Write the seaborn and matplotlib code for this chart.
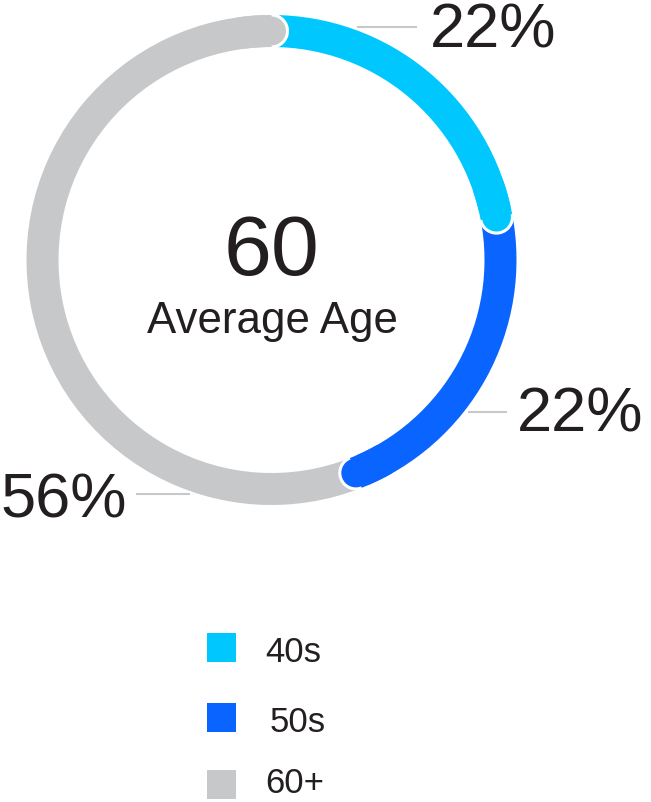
import numpy as np
import pandas as pd
import seaborn as sns
import matplotlib
matplotlib.use("Agg")
import matplotlib.pyplot as plt
from matplotlib.patches import Circle, Wedge, Rectangle

# ---- data ----
categories = ["40s", "50s", "60+"]
shares = [22, 22, 56]
labels = ["22%", "22%", "56%"]
colors = ["#00C8FF", "#0A64FF", "#C7C8CA"]
center_value = "60"
center_caption = "Average Age"

sns.set_style("white")
plt.rcParams["font.family"] = ["Liberation Sans", "DejaVu Sans"]

W, H = 651, 802
fig = plt.figure(figsize=(W / 100, H / 100), dpi=100)
ax = fig.add_axes([0, 0, 1, 1])

def Y(py):
    return H - py

cx, cy = 271.5, Y(260)
R, width = 245, 32
text_color = "#231F20"

wedges, _ = ax.pie(shares, colors=colors, startangle=90, counterclock=False,
                   radius=R, center=(cx, cy),
                   wedgeprops=dict(width=width, linewidth=0))

# rounded end caps overlapping the next segment
rmid = R - width / 2
cum = np.cumsum(shares) / np.sum(shares)
for i, c in enumerate(colors):
    th = 90 - 360 * cum[i]
    px = cx + rmid * np.cos(np.radians(th))
    py = cy + rmid * np.sin(np.radians(th))
    ax.add_patch(Circle((px, py), width / 2, facecolor=c, edgecolor="white",
                        linewidth=2.2, zorder=3))
    ax.add_patch(Wedge((cx, cy), R, th, th + 8, width=width, facecolor=c,
                       edgecolor="none", linewidth=0, zorder=4))

# center text
ax.text(cx, Y(275), center_value, ha="center", va="baseline",
        fontsize=62, color=text_color)
ax.text(cx + 1, Y(333), center_caption, ha="center", va="baseline",
        fontsize=31.6, color=text_color)

# percentage labels with leader lines
lead = dict(color="#C8C8C8", linewidth=1.5, solid_capstyle="butt")
pct_size = 45.5
ax.plot([357, 417], [Y(27), Y(27)], **lead)
ax.text(430, Y(47), labels[0], ha="left", va="baseline", fontsize=pct_size,
        color=text_color)
ax.plot([468, 507], [Y(412), Y(412)], **lead)
ax.text(517, Y(432), labels[1], ha="left", va="baseline", fontsize=pct_size,
        color=text_color)
ax.plot([136, 190], [Y(494), Y(494)], **lead)
ax.text(0, Y(518), labels[2], ha="left", va="baseline", fontsize=pct_size,
        color=text_color)

# legend
sq_tops = [633, 703, 770]
txt_x = [265, 270, 265]
txt_base = [662, 732, 793]
for i, cat in enumerate(categories):
    ax.add_patch(Rectangle((207, Y(sq_tops[i] + 29)), 29, 29,
                           facecolor=colors[i], edgecolor="none"))
    ax.text(txt_x[i], Y(txt_base[i]), cat, ha="left", va="baseline",
            fontsize=25, color=text_color)

ax.set_xlim(0, W)
ax.set_ylim(0, H)
ax.set_aspect("auto")
ax.axis("off")
fig.savefig("out.png", dpi=100)
